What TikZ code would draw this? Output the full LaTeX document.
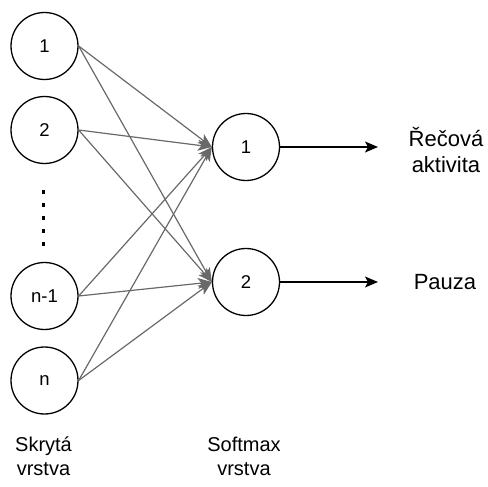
\documentclass[tikz,border=0pt]{standalone}
\usepackage{fontspec}
\setmainfont{Liberation Sans}
\usetikzlibrary{arrows.meta}
\definecolor{linkgray}{HTML}{696969}
\tikzset{
  neuron/.style={circle, draw=black, line width=1.3pt, minimum size=67pt, inner sep=0pt,
                 font=\fontsize{18.5}{22}\selectfont},
  link/.style={draw=linkgray, line width=1.2pt, -{Stealth[length=14pt, width=11pt, inset=3.5pt]}},
  outlink/.style={draw=black, line width=1.3pt, -{Stealth[length=13pt, width=11pt, inset=3pt]}},
  outlabel/.style={align=center, font=\fontsize{22}{26.5}\selectfont, inner sep=0pt},
  layerlabel/.style={align=center, font=\fontsize{20}{24}\selectfont, inner sep=0pt},
  dotmark/.style={fill=black, minimum width=3pt, minimum height=3.5pt, inner sep=0pt, rectangle}
}
\begin{document}
\begin{tikzpicture}[x=1pt, y=-1pt]
  \useasboundingbox (0,0) rectangle (488,487);

  % hidden layer
  \node[neuron] (h1) at (44.5,46) {1};
  \node[neuron] (h2) at (44.5,130) {2};
  \node[neuron] (h3) at (44.5,296) {n-1};
  \node[neuron] (h4) at (44.5,380.5) {n};

  % ellipsis between hidden units
  \foreach \k/\yy in {1/192,2/205,3/218,4/231,5/244}
    \node[dotmark] (d\k) at (43,\yy) {};

  % softmax layer
  \node[neuron] (s1) at (246,147) {1};
  \node[neuron] (s2) at (246,282) {2};

  % full connections
  \foreach \h in {h1,h2,h3,h4}
    \foreach \s in {s1,s2}
      \draw[link] (\h.east) -- (\s.west);

  % outputs
  \coordinate (o1) at (378,147);
  \coordinate (o2) at (378,282);
  \draw[outlink] (s1.east) -- (o1);
  \draw[outlink] (s2.east) -- (o2);

  \node[outlabel] (l1) at (446,150) {Řečová\\aktivita};
  \node[outlabel] (l2) at (445,282) {Pauza};

  \node[layerlabel] (c1) at (43.5,456) {Skrytá\\vrstva};
  \node[layerlabel] (c2) at (244,456) {Softmax\\vrstva};
\end{tikzpicture}
\end{document}
